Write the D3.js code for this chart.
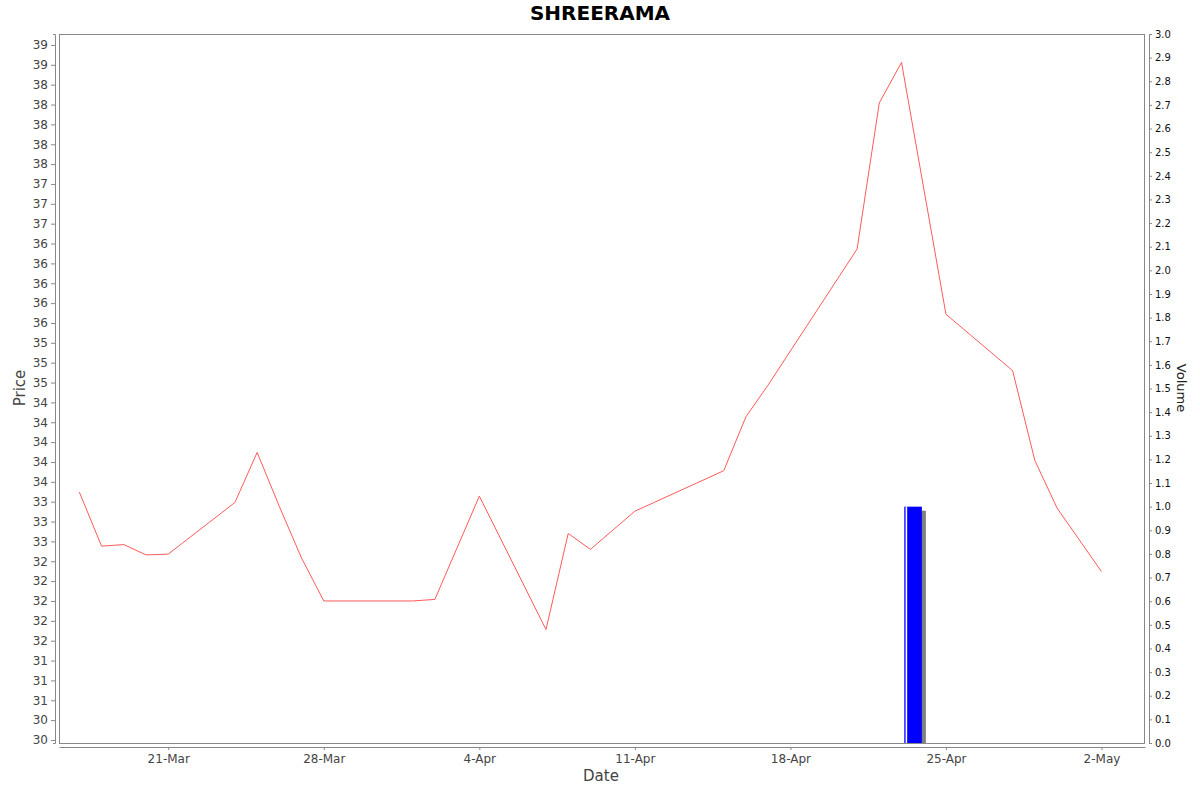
<!DOCTYPE html>
<html>
<head>
<meta charset="utf-8">
<script src="https://cdn.jsdelivr.net/npm/d3@7/dist/d3.min.js"></script>
<style>
  html, body { margin: 0; padding: 0; background: #fff; }
  svg { display: block; font-family: "DejaVu Sans", sans-serif; }
</style>
</head>
<body>
<div id="chart"></div>
<script>
// SHREERAMA: daily close (red line, left axis) and volume (bars, right axis)

var dates = [
  "2025-03-17", "2025-03-18", "2025-03-19", "2025-03-20", "2025-03-21",
  "2025-03-24", "2025-03-25", "2025-03-26", "2025-03-27", "2025-03-28",
  "2025-04-01", "2025-04-02", "2025-04-04", "2025-04-07", "2025-04-08",
  "2025-04-09", "2025-04-11", "2025-04-15", "2025-04-16", "2025-04-17",
  "2025-04-21", "2025-04-22", "2025-04-23", "2025-04-25", "2025-04-28",
  "2025-04-29", "2025-04-30", "2025-05-02"
];
var prices = [
  33.37, 32.69, 32.71, 32.58, 32.59,
  33.24, 33.87, 33.19, 32.54, 32.00,
  32.00, 32.02, 33.32, 31.64, 32.85,
  32.65, 33.13, 33.64, 34.32, 34.72,
  36.43, 38.27, 38.78, 35.61, 34.90,
  33.77, 33.17, 32.37
];

var volumeDates = ["2025-04-23"];
var volumes = [1.0];

var priceTickValues = d3.range(36).map(function (i) { return 30.25 + i * 0.25; });
var priceTickLabels = [
  "30", "30", "31", "31", "31", "32", "32", "32", "32", "32",
  "33", "33", "33", "34", "34", "34", "34", "34", "35", "35",
  "35", "36", "36", "36", "36", "36", "37", "37", "37", "38",
  "38", "38", "38", "38", "39", "39"
];
var volumeTickValues = d3.range(31).map(function (i) { return i / 10; });
var dateTickValues = ["2025-03-21", "2025-03-28", "2025-04-04", "2025-04-11",
                      "2025-04-18", "2025-04-25", "2025-05-02"];

var parse = d3.timeParse("%Y-%m-%d");

var W = 1200, H = 792;
var plot = { left: 59, right: 1145, top: 34, bottom: 743 };

var svg = d3.select("#chart").append("svg")
  .attr("width", W).attr("height", H);

var x = d3.scaleTime()
  .domain([d3.timeHour.offset(parse("2025-03-17"), -22), d3.timeHour.offset(parse("2025-05-02"), 47)])
  .range([plot.left, plot.right]);

var y = d3.scaleLinear()
  .domain([30.212, 39.138])
  .range([plot.bottom, plot.top]);

var yv = d3.scaleLinear()
  .domain([0, 3])
  .range([plot.bottom, plot.top]);

// plot frame
svg.append("rect")
  .attr("x", plot.left + 0.5).attr("y", plot.top + 0.5)
  .attr("width", plot.right - plot.left - 1).attr("height", plot.bottom - plot.top)
  .attr("fill", "#fff").attr("stroke", "#888").attr("stroke-width", 1);

// volume bars
var vol = volumeDates.map(function (d, i) { return { date: parse(d), v: volumes[i] }; });
var barX0 = function (d) { return x(d3.timeHour.offset(d.date, 3)); };
var barX1 = function (d) { return x(d3.timeHour.offset(d.date, 22)); };

svg.selectAll("rect.shadow").data(vol).enter().append("rect")
  .attr("class", "shadow")
  .attr("x", function (d) { return barX0(d) + 4; })
  .attr("y", function (d) { return yv(d.v) + 4; })
  .attr("width", function (d) { return barX1(d) - barX0(d); })
  .attr("height", function (d) { return yv(0) - yv(d.v) - 4; })
  .attr("fill", "#808080");

svg.selectAll("rect.bar").data(vol).enter().append("rect")
  .attr("class", "bar")
  .attr("x", barX0)
  .attr("y", function (d) { return yv(d.v); })
  .attr("width", function (d) { return barX1(d) - barX0(d); })
  .attr("height", function (d) { return yv(0) - yv(d.v); })
  .attr("fill", "#0000ff");

svg.selectAll("rect.hl").data(vol).enter().append("rect")
  .attr("class", "hl")
  .attr("x", function (d) { return barX0(d) + 1.3; })
  .attr("y", function (d) { return yv(d.v); })
  .attr("width", 1.6)
  .attr("height", function (d) { return yv(0) - yv(d.v); })
  .attr("fill", "#ffffff");

// price line
var pts = dates.map(function (d, i) { return { date: parse(d), p: prices[i] }; });
svg.append("path")
  .datum(pts)
  .attr("fill", "none")
  .attr("stroke", "#ff5a5a")
  .attr("stroke-width", 1)
  .attr("d", d3.line()
    .x(function (d) { return x(d.date); })
    .y(function (d) { return y(d.p); }));

// left axis (price)
var yAxis = d3.axisLeft(y)
  .tickValues(priceTickValues)
  .tickFormat(function (d, i) { return priceTickLabels[i]; })
  .tickSizeInner(4).tickSizeOuter(2).tickPadding(3);
var gy = svg.append("g")
  .attr("transform", "translate(" + (plot.left - 4) + ",0)")
  .call(yAxis);
gy.select(".domain").attr("stroke", "#888");
gy.selectAll(".tick line").attr("stroke", "#888");
gy.selectAll(".tick text").attr("fill", "#444").attr("font-size", 12)
  .attr("font-family", "DejaVu Sans, sans-serif");

// right axis (volume)
var vAxis = d3.axisRight(yv)
  .tickValues(volumeTickValues)
  .tickFormat(d3.format(".1f"))
  .tickSizeInner(3).tickSizeOuter(2).tickPadding(3);
var gv = svg.append("g")
  .attr("transform", "translate(" + (plot.right + 4) + ",0)")
  .call(vAxis);
gv.select(".domain").attr("stroke", "#888");
gv.selectAll(".tick line").attr("stroke", "#888");
gv.selectAll(".tick text").attr("fill", "#111").attr("font-size", 10)
  .attr("font-family", "DejaVu Sans, sans-serif");

// bottom axis (date)
var xAxis = d3.axisBottom(x)
  .tickValues(dateTickValues.map(parse))
  .tickFormat(d3.timeFormat("%-d-%b"))
  .tickSizeInner(3).tickSizeOuter(0).tickPadding(4);
var gx = svg.append("g")
  .attr("transform", "translate(0," + (plot.bottom + 4) + ")")
  .call(xAxis);
gx.select(".domain").attr("stroke", "#888");
gx.selectAll(".tick line").attr("stroke", "#888");
gx.selectAll(".tick text").attr("fill", "#444").attr("font-size", 12)
  .attr("font-family", "DejaVu Sans, sans-serif");

// title and axis labels
svg.append("text")
  .attr("x", W / 2).attr("y", 20)
  .attr("text-anchor", "middle")
  .attr("font-size", 20).attr("font-weight", "bold")
  .attr("fill", "#000")
  .text("SHREERAMA");

svg.append("text")
  .attr("x", 601).attr("y", 781)
  .attr("text-anchor", "middle")
  .attr("font-size", 15).attr("fill", "#444")
  .text("Date");

svg.append("text")
  .attr("transform", "translate(25,388) rotate(-90)")
  .attr("text-anchor", "middle")
  .attr("font-size", 15).attr("fill", "#444")
  .text("Price");

svg.append("text")
  .attr("transform", "translate(1177,388) rotate(90)")
  .attr("text-anchor", "middle")
  .attr("font-size", 13).attr("fill", "#222")
  .text("Volume");
</script>
</body>
</html>
